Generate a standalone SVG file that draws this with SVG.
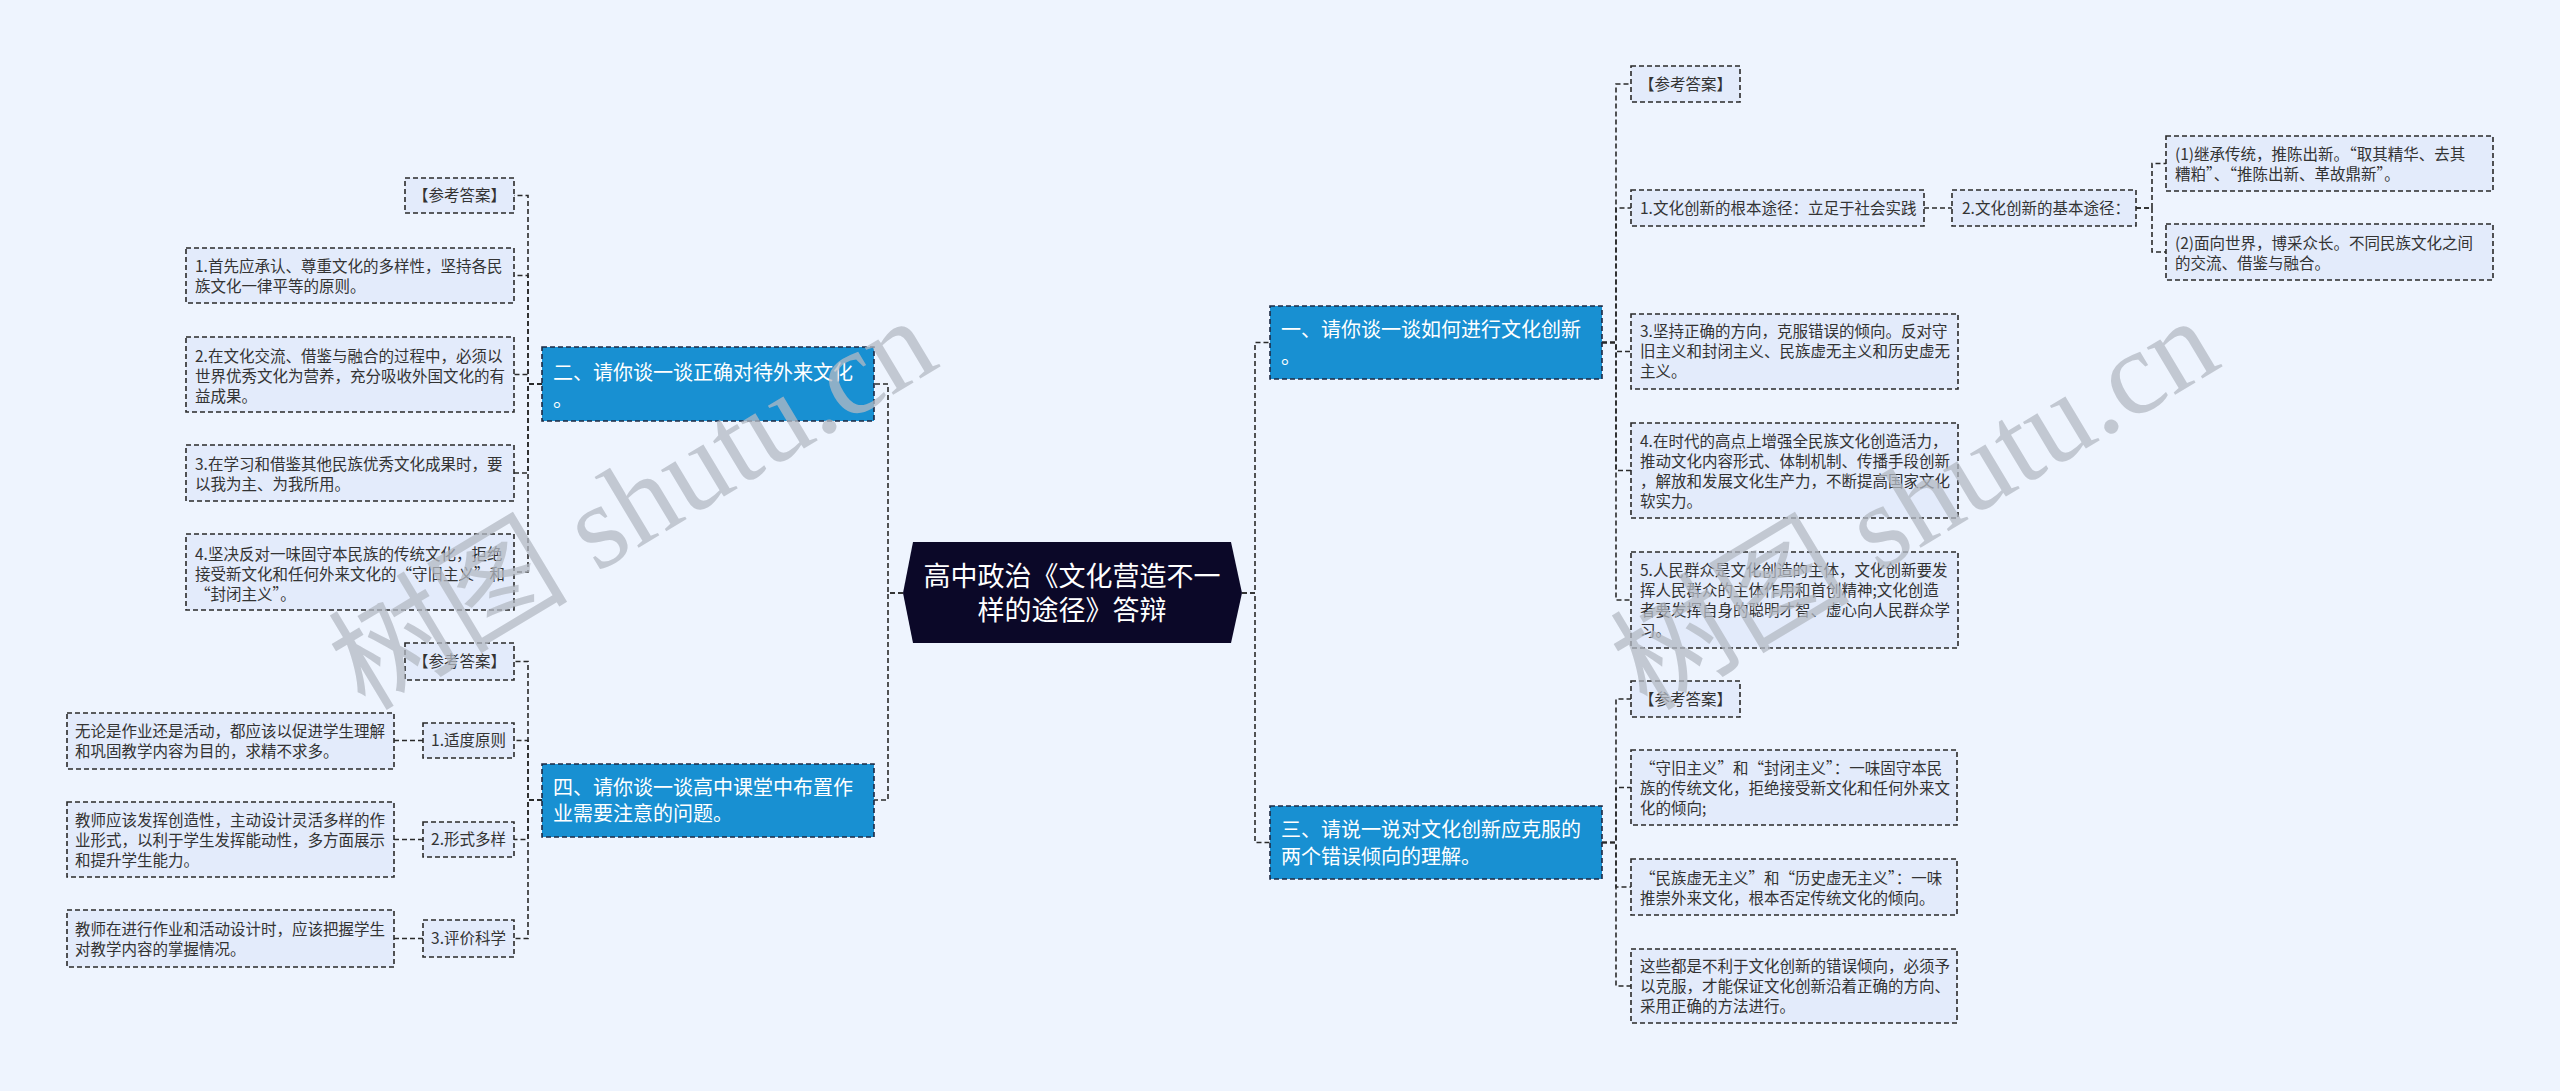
<svg xmlns="http://www.w3.org/2000/svg" width="2560" height="1091" viewBox="0 0 2560 1091">
<style>
.bg{fill:#eef4fe}
.leaf{fill:#e3ebfb;stroke:#2a2a2a;stroke-width:1.6;stroke-dasharray:5 3}
.blue{fill:#1890d2;stroke:#1d2a44;stroke-width:1.6;stroke-dasharray:5 3}
.t{font-family:"Noto Sans CJK SC","Noto Sans",sans-serif;font-size:15.5px;fill:#333}
.tb{font-family:"Noto Sans CJK SC","Noto Sans",sans-serif;font-size:20px;fill:#ffffff}
.tc{font-family:"Noto Sans CJK SC","Noto Sans",sans-serif;font-size:27px;fill:#ffffff;text-anchor:middle}
.m{text-anchor:middle}
.c{fill:none;stroke:#2a2a2a;stroke-width:1.6;stroke-dasharray:5 3}
.wm{font-family:"Liberation Serif","Noto Sans CJK SC",serif;font-size:120px;fill:#b4bac4;opacity:0.75}
</style>
<rect class="bg" x="0" y="0" width="2560" height="1091"/>

<g id="connectors">
<path class="c" d="M903 593 H888 V384 H874"/>
<path class="c" d="M903 593 H888 V800 H874"/>
<path class="c" d="M1242 593 H1255 V342.5 H1270"/>
<path class="c" d="M1242 593 H1255 V842.5 H1270"/>
<path class="c" d="M542 384 H528 V195.5 H514"/>
<path class="c" d="M542 384 H528 V275.5 H514"/>
<path class="c" d="M542 384 H528 V374.5 H514"/>
<path class="c" d="M542 384 H528 V473 H514"/>
<path class="c" d="M542 384 H528 V572 H514"/>
<path class="c" d="M542 800 H528 V661.5 H514"/>
<path class="c" d="M542 800 H528 V740.5 H514"/>
<path class="c" d="M542 800 H528 V839.5 H514"/>
<path class="c" d="M542 800 H528 V938.5 H514"/>
<path class="c" d="M423 740.5 H394"/>
<path class="c" d="M423 839.5 H394"/>
<path class="c" d="M423 938.5 H394"/>
<path class="c" d="M1602 342.5 H1616 V84 H1631"/>
<path class="c" d="M1602 342.5 H1616 V208 H1631"/>
<path class="c" d="M1602 342.5 H1616 V351.5 H1631"/>
<path class="c" d="M1602 342.5 H1616 V470.5 H1631"/>
<path class="c" d="M1602 342.5 H1616 V600 H1631"/>
<path class="c" d="M1924 208 H1952"/>
<path class="c" d="M2136 208 H2152 V163.5 H2166"/>
<path class="c" d="M2136 208 H2152 V252 H2166"/>
<path class="c" d="M1602 842.5 H1616 V699 H1631"/>
<path class="c" d="M1602 842.5 H1616 V787.5 H1631"/>
<path class="c" d="M1602 842.5 H1616 V887 H1631"/>
<path class="c" d="M1602 842.5 H1616 V986 H1631"/>
</g>

<g id="center">
<polygon points="913,542 1231,542 1242,593 1231,643 913,643 903,593" fill="#0b0828"/>
<text class="tc" x="1072" y="586">高中政治《文化营造不一</text>
<text class="tc" x="1072" y="620">样的途径》答辩</text>
</g>

<g id="n2">
<rect class="blue" x="542" y="347" width="332" height="74"/>
<text class="tb" x="553" y="380">二、请你谈一谈正确对待外来文化</text>
<text class="tb" x="553" y="407">。</text>
</g>
<g id="n2-ref"><rect class="leaf" x="405" y="178" width="109" height="35"/><text class="t m" x="459.5" y="201">【参考答案】</text></g>
<g id="n2-1"><rect class="leaf" x="186" y="248" width="328" height="55"/>
<text class="t" x="195" y="272">1.首先应承认、尊重文化的多样性，坚持各民</text>
<text class="t" x="195" y="292">族文化一律平等的原则。</text></g>
<g id="n2-2"><rect class="leaf" x="186" y="337" width="328" height="75"/>
<text class="t" x="195" y="362">2.在文化交流、借鉴与融合的过程中，必须以</text>
<text class="t" x="195" y="382">世界优秀文化为营养，充分吸收外国文化的有</text>
<text class="t" x="195" y="402">益成果。</text></g>
<g id="n2-3"><rect class="leaf" x="186" y="445" width="328" height="56"/>
<text class="t" x="195" y="470">3.在学习和借鉴其他民族优秀文化成果时，要</text>
<text class="t" x="195" y="490">以我为主、为我所用。</text></g>
<g id="n2-4"><rect class="leaf" x="186" y="534" width="328" height="76"/>
<text class="t" x="195" y="560">4.坚决反对一味固守本民族的传统文化，拒绝</text>
<text class="t" x="195" y="580">接受新文化和任何外来文化的“守旧主义”和</text>
<text class="t" x="195" y="600">“封闭主义”。</text></g>

<g id="n4">
<rect class="blue" x="542" y="764" width="332" height="73"/>
<text class="tb" x="553" y="795">四、请你谈一谈高中课堂中布置作</text>
<text class="tb" x="553" y="821">业需要注意的问题。</text>
</g>
<g id="n4-ref"><rect class="leaf" x="405" y="643" width="109" height="37"/><text class="t m" x="459.5" y="667">【参考答案】</text></g>
<g id="n4-1"><rect class="leaf" x="423" y="723" width="91" height="35"/><text class="t m" x="468.5" y="746">1.适度原则</text></g>
<g id="n4-2"><rect class="leaf" x="423" y="822" width="91" height="35"/><text class="t m" x="468.5" y="845">2.形式多样</text></g>
<g id="n4-3"><rect class="leaf" x="423" y="920" width="91" height="37"/><text class="t m" x="468.5" y="944">3.评价科学</text></g>
<g id="n4-1a"><rect class="leaf" x="67" y="713" width="327" height="56"/>
<text class="t" x="75" y="737">无论是作业还是活动，都应该以促进学生理解</text>
<text class="t" x="75" y="757">和巩固教学内容为目的，求精不求多。</text></g>
<g id="n4-2a"><rect class="leaf" x="67" y="802" width="327" height="75"/>
<text class="t" x="75" y="826">教师应该发挥创造性，主动设计灵活多样的作</text>
<text class="t" x="75" y="846">业形式，以利于学生发挥能动性，多方面展示</text>
<text class="t" x="75" y="866">和提升学生能力。</text></g>
<g id="n4-3a"><rect class="leaf" x="67" y="910" width="327" height="57"/>
<text class="t" x="75" y="935">教师在进行作业和活动设计时，应该把握学生</text>
<text class="t" x="75" y="955">对教学内容的掌握情况。</text></g>

<g id="n1">
<rect class="blue" x="1270" y="306" width="332" height="73"/>
<text class="tb" x="1281" y="337">一、请你谈一谈如何进行文化创新</text>
<text class="tb" x="1281" y="364">。</text>
</g>
<g id="n1-ref"><rect class="leaf" x="1631" y="66" width="109" height="36"/><text class="t m" x="1685.5" y="89.5">【参考答案】</text></g>
<g id="n1-1"><rect class="leaf" x="1631" y="190" width="293" height="36"/><text class="t" x="1640" y="213.5">1.文化创新的根本途径：立足于社会实践</text></g>
<g id="n1-1a"><rect class="leaf" x="1952" y="190" width="184" height="36"/><text class="t" x="1962" y="213.5">2.文化创新的基本途径：</text></g>
<g id="n1-1a1"><rect class="leaf" x="2166" y="136" width="327" height="55"/>
<text class="t" x="2175" y="160">(1)继承传统，推陈出新。“取其精华、去其</text>
<text class="t" x="2175" y="180">糟粕”、“推陈出新、革故鼎新”。</text></g>
<g id="n1-1a2"><rect class="leaf" x="2166" y="224" width="327" height="56"/>
<text class="t" x="2175" y="249">(2)面向世界，博采众长。不同民族文化之间</text>
<text class="t" x="2175" y="269">的交流、借鉴与融合。</text></g>
<g id="n1-3"><rect class="leaf" x="1631" y="314" width="327" height="75"/>
<text class="t" x="1640" y="337">3.坚持正确的方向，克服错误的倾向。反对守</text>
<text class="t" x="1640" y="357">旧主义和封闭主义、民族虚无主义和历史虚无</text>
<text class="t" x="1640" y="377">主义。</text></g>
<g id="n1-4"><rect class="leaf" x="1631" y="423" width="327" height="95"/>
<text class="t" x="1640" y="447">4.在时代的高点上增强全民族文化创造活力，</text>
<text class="t" x="1640" y="467">推动文化内容形式、体制机制、传播手段创新</text>
<text class="t" x="1640" y="487">，解放和发展文化生产力，不断提高国家文化</text>
<text class="t" x="1640" y="507">软实力。</text></g>
<g id="n1-5"><rect class="leaf" x="1631" y="552" width="327" height="96"/>
<text class="t" x="1640" y="576">5.人民群众是文化创造的主体，文化创新要发</text>
<text class="t" x="1640" y="596">挥人民群众的主体作用和首创精神;文化创造</text>
<text class="t" x="1640" y="616">者要发挥自身的聪明才智、虚心向人民群众学</text>
<text class="t" x="1640" y="636">习。</text></g>

<g id="n3">
<rect class="blue" x="1270" y="806" width="332" height="73"/>
<text class="tb" x="1281" y="837">三、请说一说对文化创新应克服的</text>
<text class="tb" x="1281" y="864">两个错误倾向的理解。</text>
</g>
<g id="n3-ref"><rect class="leaf" x="1631" y="681" width="109" height="36"/><text class="t m" x="1685.5" y="704.5">【参考答案】</text></g>
<g id="n3-1"><rect class="leaf" x="1631" y="750" width="326" height="75"/>
<text class="t" x="1640" y="774">“守旧主义”和“封闭主义”：一味固守本民</text>
<text class="t" x="1640" y="794">族的传统文化，拒绝接受新文化和任何外来文</text>
<text class="t" x="1640" y="814">化的倾向;</text></g>
<g id="n3-2"><rect class="leaf" x="1631" y="859" width="326" height="56"/>
<text class="t" x="1640" y="884">“民族虚无主义”和“历史虚无主义”：一味</text>
<text class="t" x="1640" y="904">推崇外来文化，根本否定传统文化的倾向。</text></g>
<g id="n3-3"><rect class="leaf" x="1631" y="949" width="326" height="74"/>
<text class="t" x="1640" y="972">这些都是不利于文化创新的错误倾向，必须予</text>
<text class="t" x="1640" y="992">以克服，才能保证文化创新沿着正确的方向、</text>
<text class="t" x="1640" y="1012">采用正确的方法进行。</text></g>

<g id="watermark">
<text class="wm" transform="translate(365,712) rotate(-31)">树图 shutu.cn</text>
<text class="wm" transform="translate(1647,712) rotate(-31)">树图 shutu.cn</text>
</g>
</svg>
